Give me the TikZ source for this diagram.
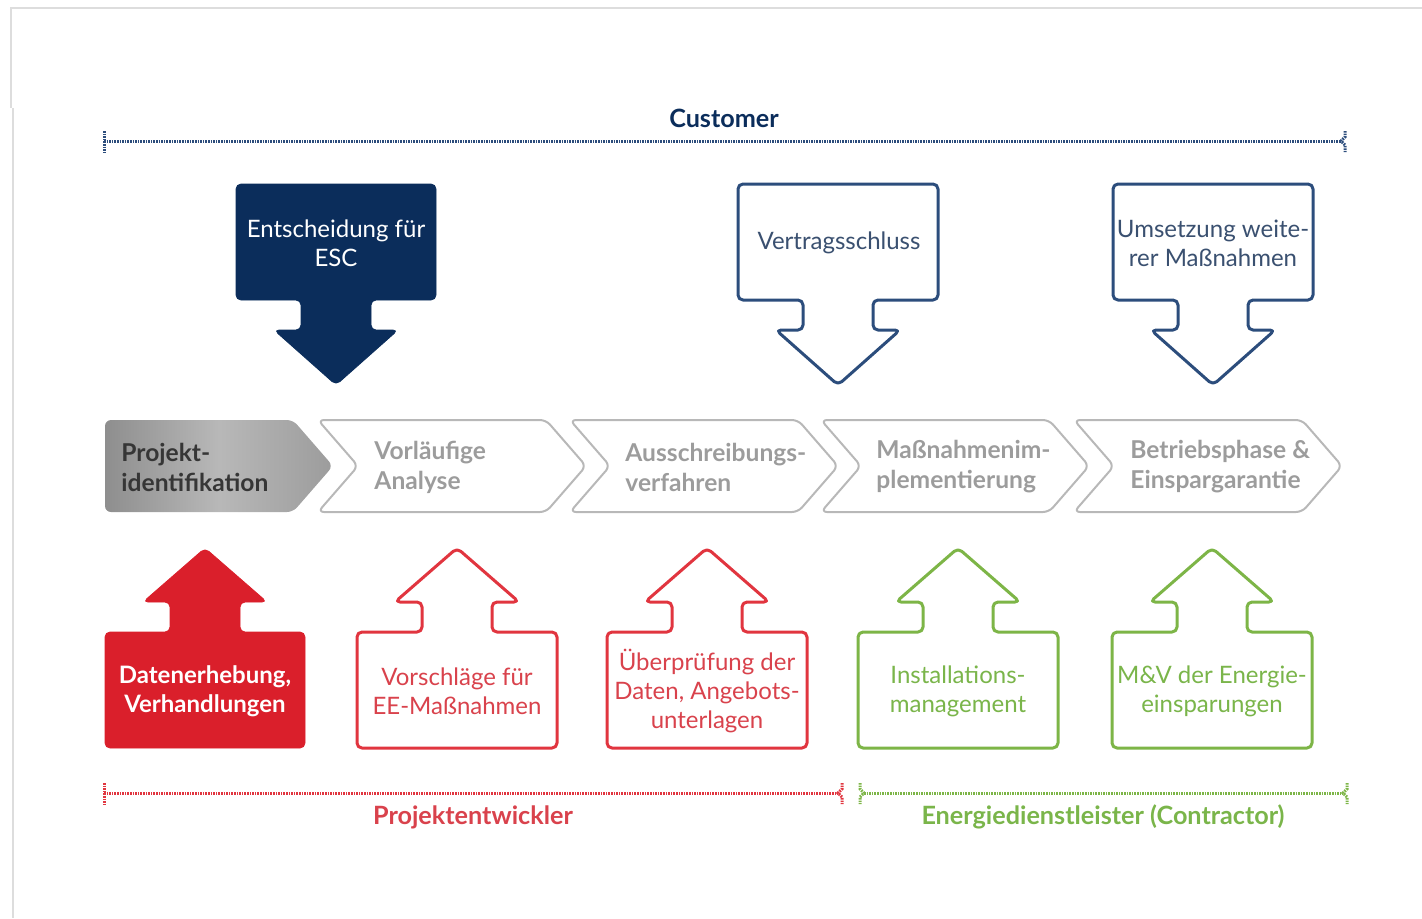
\documentclass[tikz,border=0pt]{standalone}
\usepackage{fontspec}
\setmainfont{Lato}
\definecolor{navy}{HTML}{0B2D5B}
\definecolor{navyline}{HTML}{2C4D7C}
\definecolor{navytext}{HTML}{3A5070}
\definecolor{redfill}{HTML}{DA1F2B}
\definecolor{redline}{HTML}{E1353F}
\definecolor{redtext}{HTML}{D9424C}
\definecolor{greenline}{HTML}{7DB547}
\definecolor{greentext}{HTML}{7AB54A}
\definecolor{chevline}{HTML}{B8B8B8}
\definecolor{chevtext}{HTML}{9C9C9C}
\definecolor{chevdark}{HTML}{363636}
\definecolor{greyA}{HTML}{8E8E8E}
\definecolor{greyB}{HTML}{B8B8B8}
\definecolor{greyC}{HTML}{9C9C9C}
\definecolor{pageline}{HTML}{DDDDDD}
\newcommand\DArrow[2]{\draw[#2] ({#1-100},184) -- ({#1+100},184) -- ({#1+100},300) -- ({#1+35},300) -- ({#1+35},330) -- ({#1+62},330) -- (#1,385) -- ({#1-62},330) -- ({#1-35},330) -- ({#1-35},300) -- ({#1-100},300) -- cycle;}
\newcommand\UArrow[2]{\draw[#2] ({#1-100},748) -- ({#1+100},748) -- ({#1+100},632) -- ({#1+35},632) -- ({#1+35},602) -- ({#1+62},602) -- (#1,548) -- ({#1-62},602) -- ({#1-35},602) -- ({#1-35},632) -- ({#1-100},632) -- cycle;}
\newcommand\Chev[1]{\draw[chevbox] (#1,420) -- ({#1+228},420) -- ({#1+268},466) -- ({#1+228},512) -- (#1,512) -- ({#1+40},466) -- cycle;}
\tikzset{
  arrowshape/.style={rounded corners=2.5pt, line join=round},
  chevbox/.style={draw=chevline, line width=1pt, rounded corners=3pt, line join=round},
  boxtext/.style={font=\fontsize{12}{14.5}\selectfont, align=center, inner sep=0pt},
  chevlabel/.style={font=\bfseries\fontsize{12.3}{15}\selectfont, align=left, anchor=west, inner sep=0pt, text=chevtext},
  brace/.style={line width=1.5pt, dash pattern=on 0.8pt off 0.5pt},
  teamlabel/.style={font=\bfseries\fontsize{12.6}{14}\selectfont, inner sep=0pt},
}
\begin{document}
\begin{tikzpicture}[x=0.5pt, y=-0.5pt]
\useasboundingbox (0,0) rectangle (1422,918);
% page edge
\draw[pageline, line width=1pt] (1422,8) -- (11,8) -- (11,108);
\draw[pageline, line width=1pt] (13,108) -- (13,918);

% Customer brace
\draw[brace, navyline] (104,131) -- (104,152);
\draw[brace, navyline] (104,141) -- (1341,141);
\draw[brace, navyline] (1345,131) -- (1345,137) -- (1341,141) -- (1345,145) -- (1345,152);
\node[teamlabel, text=navy] (customer) at (724,118) {Customer};

% top arrows
\DArrow{336}{arrowshape, fill=navy, draw=navy}
\DArrow{838}{arrowshape, draw=navyline, line width=1.5pt, fill=white}
\DArrow{1213}{arrowshape, draw=navyline, line width=1.5pt, fill=white}
\node[boxtext, text=white] (esc) at (336,243) {Entscheidung für\\ESC};
\node[boxtext, text=navytext] (vertrag) at (839,243) {Vertragsschluss};
\node[boxtext, text=navytext] (umsetzung) at (1213,243) {Umsetzung weite-\\rer Maßnahmen};

% chevrons
\shade[left color=greyA, right color=greyC, middle color=greyB, rounded corners=3pt]
  (105,420) -- (293,420) -- (333,466) -- (293,512) -- (105,512) -- cycle;
\Chev{318}
\Chev{570}
\Chev{821}
\Chev{1074}
\node[chevlabel, text=chevdark] (c1) at (121,467) {Projekt-\\identifikation};
\node[chevlabel] (c2) at (374,467) {Vorläufige\\Analyse};
\node[chevlabel] (c3) at (625,467) {Ausschreibungs-\\verfahren};
\node[chevlabel] (c4) at (876,467) {Maßnahmenim-\\plementierung};
\node[chevlabel] (c5) at (1130,467) {Betriebsphase \&\\Einspargarantie};

% bottom arrows
\UArrow{205}{arrowshape, fill=redfill, draw=redfill}
\UArrow{457}{arrowshape, draw=redline, line width=1.5pt, fill=white}
\UArrow{707}{arrowshape, draw=redline, line width=1.5pt, fill=white}
\UArrow{958}{arrowshape, draw=greenline, line width=1.5pt, fill=white}
\UArrow{1212}{arrowshape, draw=greenline, line width=1.5pt, fill=white}
\node[boxtext, text=white, font=\bfseries\fontsize{12}{14.5}\selectfont] (daten) at (205,691) {Datenerhebung,\\Verhandlungen};
\node[boxtext, text=redtext] (vorschlag) at (457,691) {Vorschläge für\\EE-Maßnahmen};
\node[boxtext, text=redtext] (pruefung) at (707,691) {Überprüfung der\\Daten, Angebots-\\unterlagen};
\node[boxtext, text=greentext] (install) at (958,691) {Installations-\\management};
\node[boxtext, text=greentext] (mv) at (1212,691) {M\&V der Energie-\\einsparungen};

% bottom braces
\draw[brace, redline] (104,783) -- (104,804);
\draw[brace, redline] (104,793) -- (838,793);
\draw[brace, redline] (842,783) -- (842,789) -- (838,793) -- (842,797) -- (842,804);
\node[teamlabel, text=redtext] (projekt) at (473,817) {Projektentwickler};
\draw[brace, greenline] (860,783) -- (860,789) -- (864,793) -- (860,797) -- (860,804);
\draw[brace, greenline] (864,793) -- (1343,793);
\draw[brace, greenline] (1347,783) -- (1347,789) -- (1343,793) -- (1347,797) -- (1347,804);
\node[teamlabel, text=greentext] (energie) at (1103,817) {Energiedienstleister (Contractor)};
\end{tikzpicture}
\end{document}
